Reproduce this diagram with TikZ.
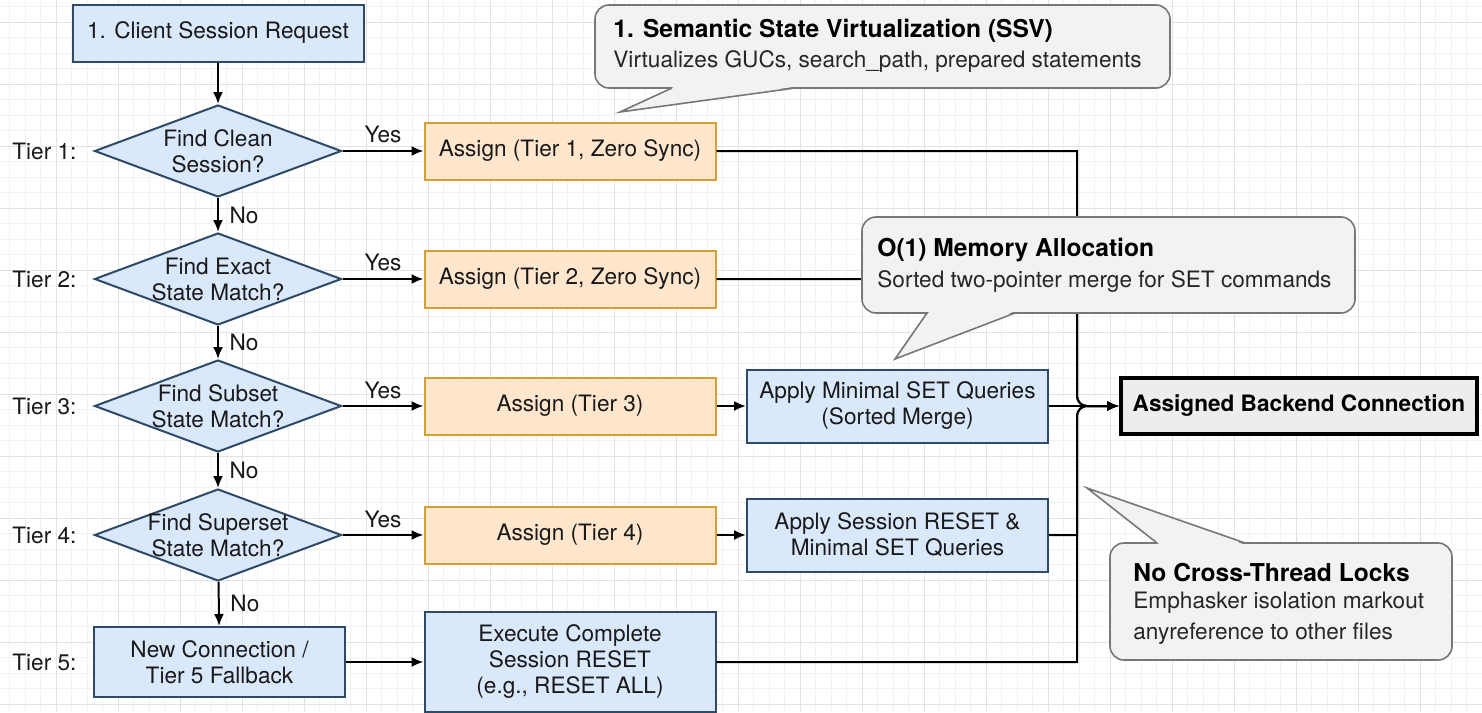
\documentclass[tikz,border=0pt]{standalone}
\usepackage{fontspec}
\setmainfont{TeX Gyre Heros}
\usetikzlibrary{shapes.geometric,arrows.meta}

\definecolor{blueFill}{HTML}{DAE8FC}
\definecolor{blueLine}{HTML}{2E4A66}
\definecolor{orangeFill}{HTML}{FFE6CC}
\definecolor{orangeLine}{HTML}{D6A02E}
\definecolor{noteFill}{HTML}{F2F2F2}
\definecolor{noteLine}{HTML}{777777}
\definecolor{gridMinor}{HTML}{F2F2F2}
\definecolor{gridMajor}{HTML}{E2E2E2}

\tikzset{
  txt/.style={font=\fontsize{11.3}{13}\selectfont, align=center, text=black!90},
  process/.style={txt, draw=blueLine, fill=blueFill, line width=1pt, inner sep=0pt},
  assign/.style={txt, draw=orangeLine, fill=orangeFill, line width=1pt, inner sep=0pt,
    minimum width=145.5pt, minimum height=28.5pt},
  decision/.style={diamond, draw=blueLine, fill=blueFill, line width=1pt, inner sep=0pt,
    minimum width=123.5pt, minimum height=46pt},
  link/.style={line width=1pt, -{Latex[length=6pt,width=5pt]}},
  note/.style={draw=noteLine, fill=noteFill, line width=0.8pt},
  notetitle/.style={font=\fontsize{12.3}{15}\selectfont\bfseries, anchor=west, inner sep=0pt},
  notebody/.style={font=\fontsize{11.3}{15.5}\selectfont, anchor=west, inner sep=0pt,
    align=left, text=black!85},
}

\begin{document}
\begin{tikzpicture}[x=0.5pt,y=-0.5pt]

\useasboundingbox (0,0) rectangle (1482,712);
\fill[white] (0,0) rectangle (1482,712);

% background grid
\foreach \gx in {9.5,25,...,1482} \draw[gridMinor,line width=0.4pt] (\gx,0) -- (\gx,712);
\foreach \gy in {6.5,22,...,712} \draw[gridMinor,line width=0.4pt] (0,\gy) -- (1482,\gy);
\foreach \gx in {56,118,...,1482} \draw[gridMajor,line width=0.5pt] (\gx,0) -- (\gx,712);
\foreach \gy in {22,84,...,712} \draw[gridMajor,line width=0.5pt] (0,\gy) -- (1482,\gy);

% tier labels
\node[txt, anchor=west, inner sep=0pt] (t1) at (12,151) {Tier 1:};
\node[txt, anchor=west, inner sep=0pt] (t2) at (12,279) {Tier 2:};
\node[txt, anchor=west, inner sep=0pt] (t3) at (12,406) {Tier 3:};
\node[txt, anchor=west, inner sep=0pt] (t4) at (12,535) {Tier 4:};
\node[txt, anchor=west, inner sep=0pt] (t5) at (12,662) {Tier 5:};

% left column
\node[process, minimum width=145.5pt, minimum height=28.5pt] (req) at (218,33) {1. Client Session Request};
\node[decision, label={[txt]center:{Find Clean\\Session?}}] (q1) at (218,151) {};
\node[decision, label={[txt]center:{Find Exact\\State Match?}}] (q2) at (218,279) {};
\node[decision, label={[txt]center:{Find Subset\\State Match?}}] (q3) at (218,406) {};
\node[decision, label={[txt]center:{Find Superset\\State Match?}}] (q4) at (218,535) {};
\node[process, minimum width=125.5pt, minimum height=35pt] (n5) at (219.5,662) {New Connection /\\Tier 5 Fallback};

% middle columns
\node[assign] (a1) at (570,151) {Assign (Tier 1, Zero Sync)};
\node[assign] (a2) at (570,279) {Assign (Tier 2, Zero Sync)};
\node[assign] (a3) at (570,406) {Assign (Tier 3)};
\node[assign] (a4) at (570,535) {Assign (Tier 4)};
\node[process, minimum width=145.5pt, minimum height=50pt] (x5) at (570,662) {Execute Complete\\Session RESET\\(e.g., RESET ALL)};
\node[process, minimum width=150.5pt, minimum height=36.5pt] (m3) at (897.5,406) {Apply Minimal SET Queries\\(Sorted Merge)};
\node[process, minimum width=150.5pt, minimum height=36.5pt] (m4) at (897.5,535) {Apply Session RESET \&\\Minimal SET Queries};

% result
\node[txt, font=\fontsize{11.3}{13}\selectfont\bfseries, draw=black, fill=black!7, line width=2pt,
  inner sep=0pt, minimum width=178pt, minimum height=28pt, text=black] (out) at (1299,406) {Assigned Backend Connection};
\coordinate (hub) at (1077,406);

% flow
\draw[link] (req) -- (q1);
\draw[link] (q1) -- node[txt, above] {Yes} (a1);
\draw[link] (q2) -- node[txt, above] {Yes} (a2);
\draw[link] (q3) -- node[txt, above] {Yes} (a3);
\draw[link] (q4) -- node[txt, above] {Yes} (a4);
\draw[link] (q1) -- node[txt, right=2pt] {No} (q2);
\draw[link] (q2) -- node[txt, right=2pt] {No} (q3);
\draw[link] (q3) -- node[txt, right=2pt] {No} (q4);
\draw[link] (q4) -- node[txt, right=2pt] {No} (n5);
\draw[link] (n5) -- (x5);
\draw[link] (a3) -- (m3);
\draw[link] (a4) -- (m4);

% merge into the backend connection
\draw[link] (a1.east) -- (a1.east -| hub) [rounded corners=5pt] -- (hub) -- (out.west);
\draw[link] (a2.east) -- (a2.east -| hub) [rounded corners=5pt] -- (hub) -- (out.west);
\draw[link] (m3.east) -- (out.west);
\draw[link] (m4.east) -- (m4.east -| hub) [rounded corners=5pt] -- (hub) -- (out.west);
\draw[link] (x5.east) -- (x5.east -| hub) [rounded corners=5pt] -- (hub) -- (out.west);

% callout: SSV
\draw[note, rounded corners=7pt] (595,5) rectangle (1170,88);
\fill[noteFill] (674,87) -- (620,112) -- (793,87) -- cycle;
\draw[noteLine, line width=0.8pt] (672,88) -- (620,112) -- (795,88);
\node[notetitle] (ssvt) at (613,31) {1. Semantic State Virtualization (SSV)};
\node[notebody] (ssvb) at (613,62) {Virtualizes GUCs, search\_path, prepared statements};

% callout: memory
\draw[note, rounded corners=7pt] (862,217) rectangle (1355,313);
\fill[noteFill] (929,312) -- (895,359) -- (1013,312) -- cycle;
\draw[noteLine, line width=0.8pt] (927,313) -- (895,359) -- (1015,313);
\node[notetitle] (memt) at (877,250) {O(1) Memory Allocation};
\node[notebody] (memb) at (877,282) {Sorted two-pointer merge for SET commands};

% callout: locks
\draw[note, rounded corners=7pt] (1110,543) rectangle (1452,660);
\fill[noteFill] (1159,544) -- (1087,488) -- (1243,544) -- cycle;
\draw[noteLine, line width=0.8pt] (1157,543) -- (1087,488) -- (1245,543);
\node[notetitle] (lckt) at (1133,573) {No Cross-Thread Locks};
\node[notebody, anchor=north west] (lckb) at (1133,592) {Emphasker isolation markout\\anyreference to other files};

\end{tikzpicture}
\end{document}
